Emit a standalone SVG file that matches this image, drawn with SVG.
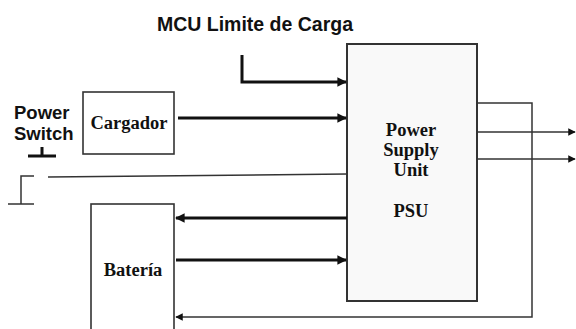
<svg xmlns="http://www.w3.org/2000/svg" width="576" height="329" viewBox="0 0 576 329">
<style>
.box{fill:#ffffff;stroke:#333;stroke-width:1.6}
.psu{fill:#f9f9f9;stroke:#333;stroke-width:2}
.thick{fill:none;stroke:#111;stroke-width:3}
.thin{fill:none;stroke:#333;stroke-width:1.5}
.sans{font-family:"Liberation Sans",Arial,sans-serif;font-weight:bold;font-size:18.5px;fill:#111}
.serif{font-family:"Liberation Serif","Times New Roman",serif;font-weight:bold;font-size:18.5px;fill:#111}
</style>
<defs>
<marker id="ah" viewBox="0 0 10 10" refX="9" refY="5" markerWidth="3.6" markerHeight="3.2" orient="auto" markerUnits="strokeWidth">
<path d="M0,0 L10,5 L0,10 Z" fill="#111"/>
</marker>
<marker id="ahs" viewBox="0 0 10 10" refX="9" refY="5" markerWidth="5" markerHeight="5" orient="auto" markerUnits="strokeWidth">
<path d="M0,0 L10,5 L0,10 Z" fill="#111"/>
</marker>
</defs>
<text class="sans" x="255" y="31" text-anchor="middle" style="font-size:19.5px">MCU Limite de Carga</text>
<g id="power-switch">
<text class="sans" x="14" y="119">Power</text>
<text class="sans" x="14" y="140">Switch</text>
<path class="thick" d="M28,156 H56 M42,147 V156" stroke-width="2.5"/>
<path class="thin" d="M34,176 H21 V204 M8,204 H34"/>
</g>
<g id="cargador">
<rect class="box" x="83" y="92" width="91" height="62"/>
<text class="serif" x="129" y="129" text-anchor="middle">Cargador</text>
</g>
<g id="psu">
<rect class="psu" x="347" y="44" width="130" height="257"/>
<text class="serif" x="411" y="136" text-anchor="middle">Power</text>
<text class="serif" x="411" y="156" text-anchor="middle">Supply</text>
<text class="serif" x="411" y="176" text-anchor="middle">Unit</text>
<text class="serif" x="411" y="217" text-anchor="middle">PSU</text>
</g>
<g id="bateria">
<rect class="box" x="91" y="204" width="83" height="130"/>
<text class="serif" x="133" y="276" text-anchor="middle">Batería</text>
</g>
<g id="connectors">
<path class="thick" d="M242,55 V82 H346" marker-end="url(#ah)"/>
<path class="thick" d="M178,118 H346" marker-end="url(#ah)"/>
<path class="thin" d="M48,177 L347,174"/>
<path class="thick" d="M347,218 H176" marker-end="url(#ah)"/>
<path class="thick" d="M176,260 H346" marker-end="url(#ah)"/>
<path class="thin" d="M477,103 H532 V317 H176" marker-end="url(#ahs)"/>
<path class="thin" d="M477,132 H575" marker-end="url(#ahs)"/>
<path class="thin" d="M477,159 H575" marker-end="url(#ahs)"/>
</g>
</svg>
